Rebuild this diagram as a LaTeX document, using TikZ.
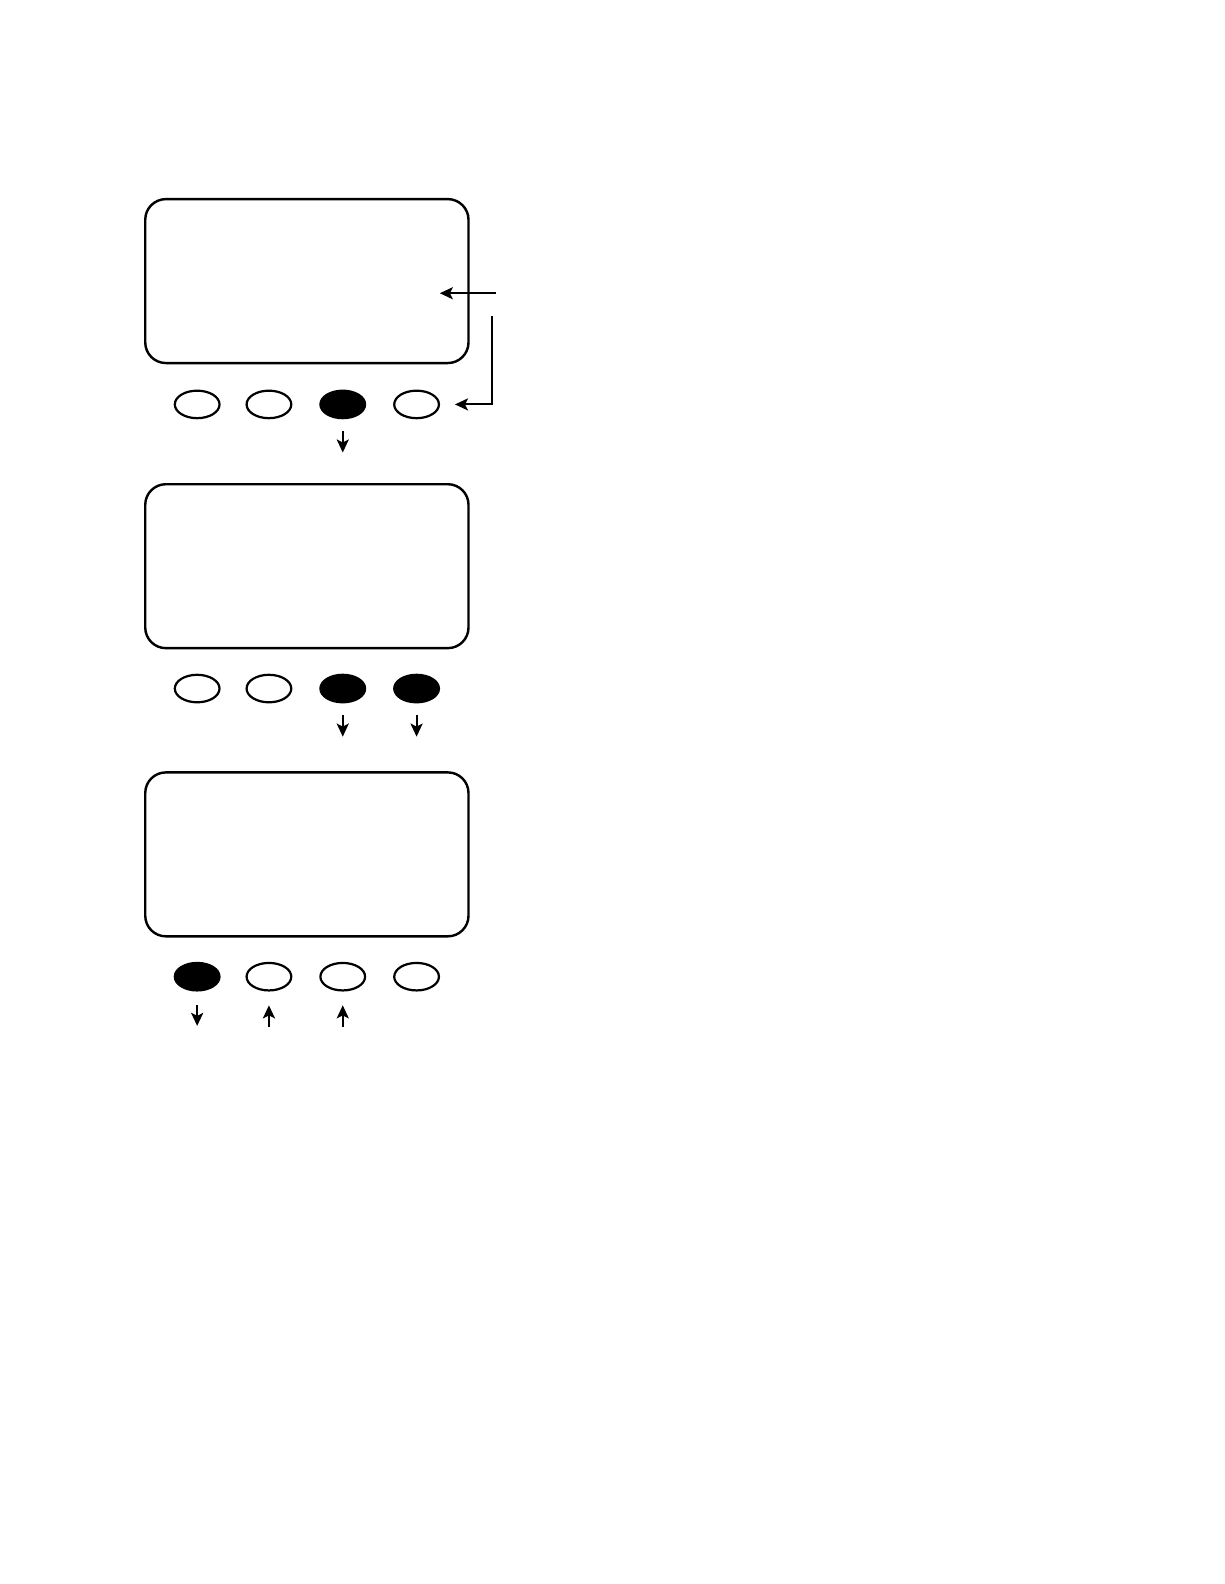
\documentclass[tikz,border=0pt]{standalone}
\usetikzlibrary{shapes.geometric,arrows.meta,positioning}

\tikzset{
 screen/.style={draw,line width=1.2pt,rounded corners=0.36cm,minimum width=5.64cm,minimum height=2.86cm},
 btn/.style={draw,ellipse,line width=1.1pt,minimum width=0.78cm,minimum height=0.48cm,inner sep=0pt},
 pressed/.style={btn,fill=black},
 push/.style={-{Stealth[length=6.5pt,width=6pt,inset=1.5pt]},line width=1pt}
}

\begin{document}
\begin{tikzpicture}

 \useasboundingbox (0,0) rectangle (21.355,-27.636);

 % display 1
 \node[screen] (s1) at (5.354,-4.904) {};
 \node[btn] (b11) at (3.44,-7.056) {};
 \node[btn] (b12) at (4.692,-7.056) {};
 \node[pressed] (b13) at (5.98,-7.056) {};
 \node[btn] (b14) at (7.268,-7.056) {};
 \coordinate (p1) at (8.66,-5.116);
 \coordinate (t1) at (7.673,-5.116);
 \coordinate (p2) at (8.591,-5.521);
 \draw[push] (p1) -- (t1);
 \draw[push] (p2) |- ([xshift=0.26cm]b14.east);
 \coordinate (d13) at ([yshift=-0.58cm]b13.south);
 \draw[push] ([yshift=-0.2cm]b13.south) -- (d13);

 % display 2
 \node[screen] (s2) at (5.354,-9.878) {};
 \node[btn] (b21) at (3.44,-12.013) {};
 \node[btn] (b22) at (4.692,-12.013) {};
 \node[pressed] (b23) at (5.98,-12.013) {};
 \node[pressed] (b24) at (7.268,-12.013) {};
 \coordinate (d23) at ([yshift=-0.58cm]b23.south);
 \coordinate (d24) at ([yshift=-0.58cm]b24.south);
 \draw[push] ([yshift=-0.2cm]b23.south) -- (d23);
 \draw[push] ([yshift=-0.2cm]b24.south) -- (d24);

 % display 3
 \node[screen] (s3) at (5.354,-14.906) {};
 \node[pressed] (b31) at (3.44,-17.04) {};
 \node[btn] (b32) at (4.692,-17.04) {};
 \node[btn] (b33) at (5.98,-17.04) {};
 \node[btn] (b34) at (7.268,-17.04) {};
 \coordinate (d31) at ([yshift=-0.6cm]b31.south);
 \coordinate (u32) at ([yshift=-0.62cm]b32.south);
 \coordinate (u33) at ([yshift=-0.62cm]b33.south);
 \draw[push] ([yshift=-0.24cm]b31.south) -- (d31);
 \draw[push] (u32) -- ([yshift=-0.24cm]b32.south);
 \draw[push] (u33) -- ([yshift=-0.24cm]b33.south);

\end{tikzpicture}
\end{document}
